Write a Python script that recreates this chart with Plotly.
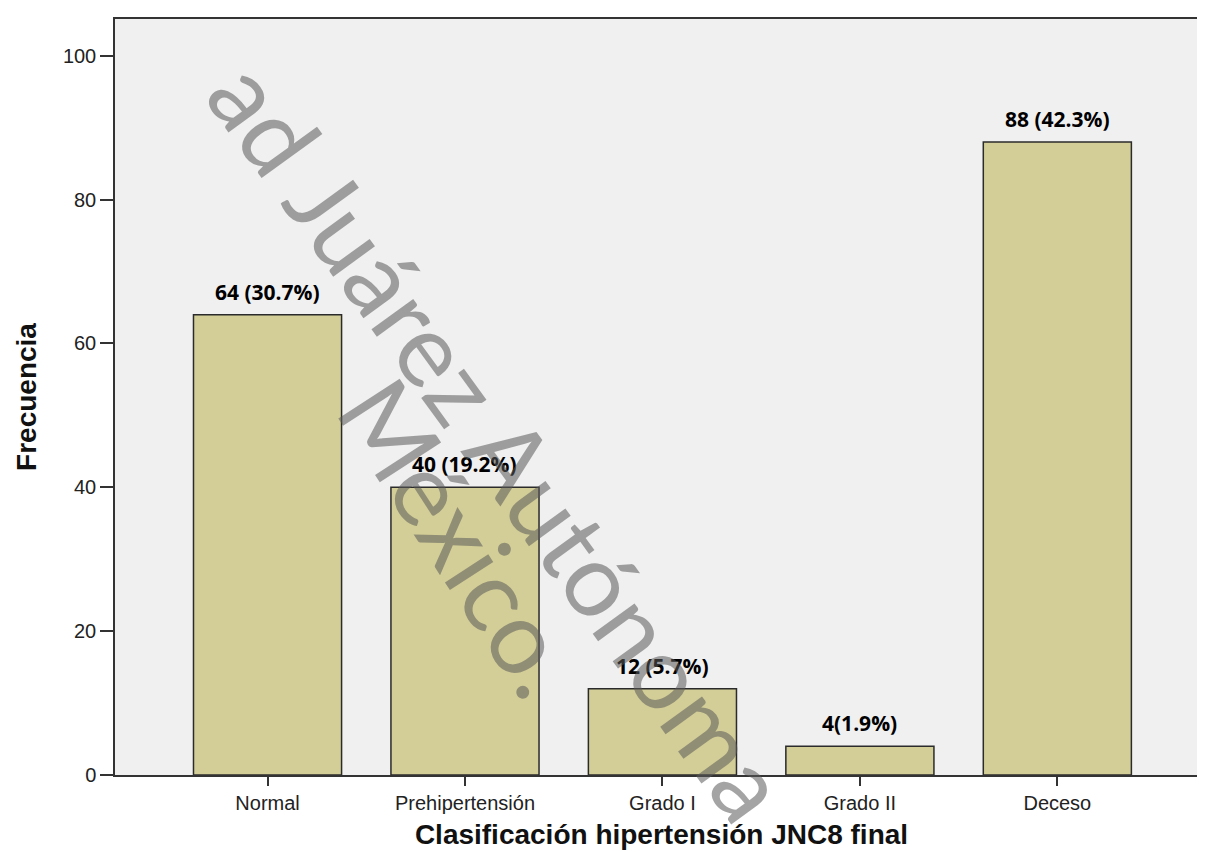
import plotly.graph_objects as go

categories = ["Normal", "Prehipertensión", "Grado I", "Grado II", "Deceso"]
frequencies = [64, 40, 12, 4, 88]
bar_labels = ["64 (30.7%)", "40 (19.2%)", "12 (5.7%)", "4(1.9%)", "88 (42.3%)"]
y_ticks = [0, 20, 40, 60, 80, 100]

L, R, T, B = 107, 3, 11, 85
W, H = 1205, 852
PW, PH = W - L - R, H - T - B

fig = go.Figure()
fig.add_trace(go.Bar(
    x=list(range(len(categories))),
    y=frequencies,
    width=0.75,
    marker=dict(color="#D3CE97", line=dict(color="#2b2b2b", width=1.5)),
    hoverinfo="skip",
))

for i, (v, lab) in enumerate(zip(frequencies, bar_labels)):
    fig.add_annotation(x=i, y=v, text=f"<b>{lab}</b>", showarrow=False,
                       xanchor="center", yanchor="middle",
                       yshift=23, font=dict(family="Open Sans, Noto Sans", size=21, color="#000000"))

# watermark
wm_font = dict(family="Lato, Open Sans", size=102, color="rgba(90,90,90,0.55)")
def px(xp, yp):
    return (xp - L) / PW, (H - B - yp) / PH

wx, wy = px(494, 432)
fig.add_annotation(xref="paper", yref="paper", x=wx, y=wy, xanchor="center", yanchor="middle",
                   text="ad Juárez Autónoma", showarrow=False, textangle=54, font=wm_font)
wx, wy = px(455, 528)
fig.add_annotation(xref="paper", yref="paper", x=wx, y=wy, xanchor="center", yanchor="middle",
                   text="México.", showarrow=False, textangle=57, font=wm_font)

fig.update_layout(
    width=W, height=H,
    margin=dict(l=L, r=R, t=T, b=B),
    paper_bgcolor="white",
    plot_bgcolor="#F0F0F0",
    showlegend=False,
    font=dict(family="Liberation Sans, Arial", color="#222222"),
)
fig.update_xaxes(
    range=[-0.7725, 4.763],
    tickmode="array", tickvals=list(range(len(categories))), ticktext=categories,
    ticks="outside", ticklen=9, tickcolor="#333333", tickwidth=1.5,
    tickfont=dict(size=20, color="#222222"),
    showline=True, linecolor="#333333", linewidth=1.5, mirror=True,
    showgrid=False, zeroline=False,
    title=dict(text="<b>Clasificación hipertensión JNC8 final</b>",
               font=dict(family="Liberation Sans, Arial", size=28, color="#111111"), standoff=12),
)
fig.update_yaxes(
    range=[0, 105.1],
    tickmode="array", tickvals=y_ticks,
    ticks="outside", ticklen=13, tickcolor="#333333", tickwidth=1.5,
    tickfont=dict(size=20, color="#222222"),
    showline=True, linecolor="#333333", linewidth=1.5, mirror=True,
    showgrid=False, zeroline=False,
    title=dict(text="<b>Frecuencia</b>",
               font=dict(family="Liberation Sans, Arial", size=28, color="#111111"), standoff=18),
)

fig.write_html("out.html")
